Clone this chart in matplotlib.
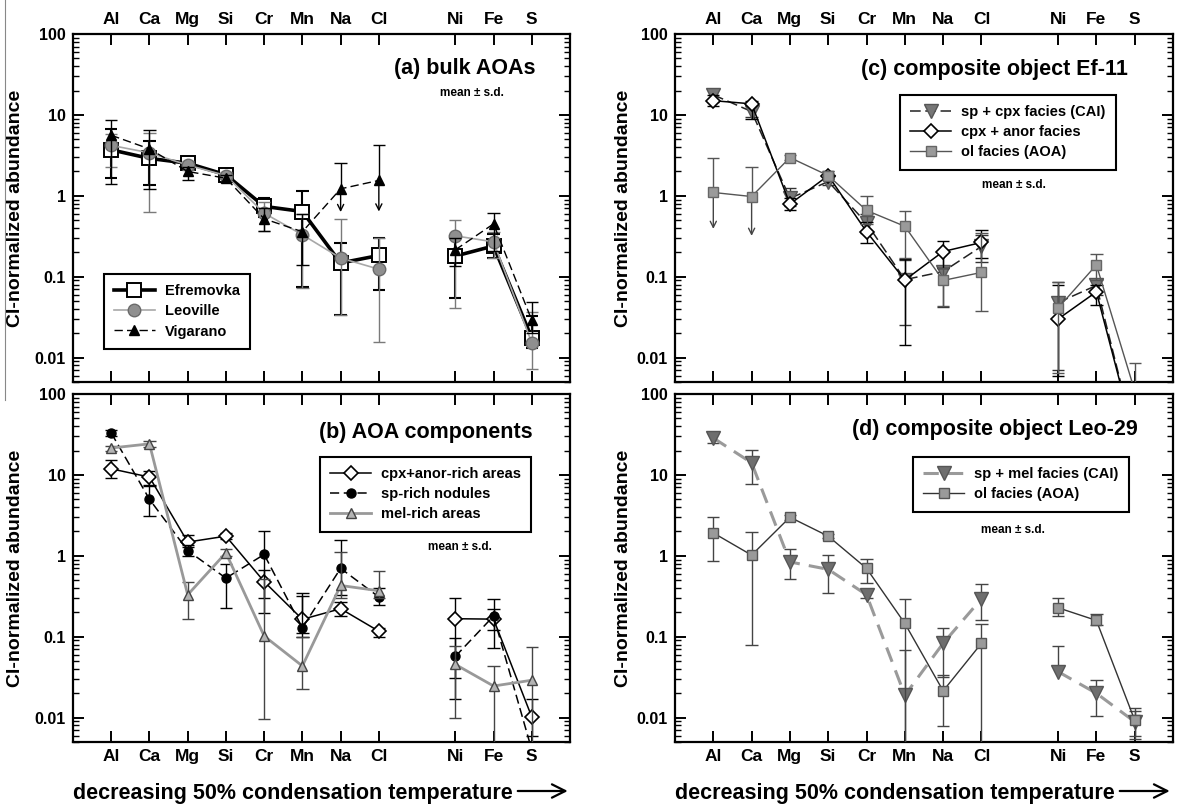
import numpy as np
import matplotlib.pyplot as plt
from matplotlib.lines import Line2D
from matplotlib.patches import FancyArrowPatch
from matplotlib.ticker import LogLocator, NullFormatter

plt.rcParams['font.family'] = ['Liberation Sans', 'DejaVu Sans']
plt.rcParams['font.weight'] = 'bold'
plt.rcParams['axes.linewidth'] = 1.6

nan = np.nan

elements = ["Al", "Ca", "Mg", "Si", "Cr", "Mn", "Na", "Cl", "Ni", "Fe", "S"]
xpos = [1, 2, 3, 4, 5, 6, 7, 8, 10, 11, 12]

# (a) bulk AOAs: mean, lower and upper end of the s.d. bar
efr_val = [3.7, 2.9, 2.53, 1.82, 0.74, 0.64, 0.148, 0.183, 0.18, 0.24, 0.0175]
efr_lo = [1.65, 1.37, 2.2, 1.65, 0.55, 0.075, 0.034, 0.068, 0.054, 0.17, 0.013]
efr_hi = [6.7, 4.7, 2.9, 2.0, 0.95, 1.15, 0.26, 0.30, 0.30, 0.34, 0.033]

leo_val = [4.2, 3.4, 2.4, 1.78, 0.61, 0.33, 0.17, 0.124, 0.32, 0.27, 0.0153]
leo_lo = [2.3, 0.64, 2.1, 1.6, 0.37, 0.072, 0.034, 0.0155, 0.041, 0.17, 0.0073]
leo_hi = [5.8, 6.0, 2.7, 1.95, 0.85, 0.6, 0.52, 0.30, 0.50, 0.36, 0.037]

vig_val = [5.6, 3.8, 2.0, 1.65, 0.52, 0.36, 1.22, 1.55, 0.215, 0.45, 0.029]
vig_lo = [1.41, 1.2, 1.58, 1.5, 0.37, 0.139, nan, nan, 0.137, 0.21, 0.02]
vig_hi = [8.7, 6.5, 2.3, 1.8, 0.7, 0.6, 2.58, 4.2, 0.30, 0.62, 0.049]
vig_limit_idx = [6, 7]
vig_limit_tip = [0.63, 0.64]

# (b) AOA components
cpx_val = [11.9, 9.4, 1.48, 1.75, 0.48, 0.164, 0.222, 0.117, 0.167, 0.165, 0.0102]
cpx_lo = [9.2, 7.5, 1.3, 1.6, 0.30, 0.11, 0.18, 0.10, 0.031, 0.12, 0.006]
cpx_hi = [15.1, 11.1, 1.8, 1.9, 0.66, 0.35, 0.27, 0.13, 0.30, 0.22, 0.0168]

spn_val = [33.0, 5.0, 1.16, 0.53, 1.04, 0.129, 0.70, 0.31, 0.057, 0.18, 0.004]
spn_lo = [30.0, 3.1, 1.0, 0.228, 0.198, 0.10, 0.33, 0.246, 0.0168, 0.072, nan]
spn_hi = [36.0, 7.3, 1.35, 0.8, 2.02, 0.32, 1.58, 0.40, 0.097, 0.29, nan]

mel_val = [21.5, 24.2, 0.33, 1.09, 0.102, 0.0435, 0.43, 0.37, 0.0455, 0.0246, 0.029]
mel_lo = [20.0, 22.0, 0.168, 1.0, 0.0095, 0.0224, 0.30, 0.30, 0.0098, 0.004, 0.004]
mel_hi = [23.0, 26.0, 0.48, 1.2, 0.51, 0.10, 1.12, 0.65, 0.077, 0.044, 0.075]

# (c) composite object Ef-11
cspx_val = [17.7, 11.0, 0.93, 1.5, 0.46, 0.092, 0.116, 0.237, 0.048, 0.078, 0.001]
cspx_lo = [14.5, 9.5, 0.75, 1.35, 0.35, 0.0255, 0.042, 0.15, 0.0071, 0.06, nan]
cspx_hi = [20.7, 13.0, 1.24, 1.7, 0.60, 0.16, 0.20, 0.33, 0.085, 0.095, nan]

canr_val = [15.0, 13.7, 0.79, 1.78, 0.36, 0.091, 0.205, 0.265, 0.030, 0.065, 0.001]
canr_lo = [12.9, 8.9, 0.67, 1.6, 0.26, 0.0142, 0.13, 0.17, 0.0059, 0.045, nan]
canr_hi = [17.5, 15.0, 0.95, 2.0, 0.48, 0.165, 0.28, 0.38, 0.079, 0.08, nan]

col_val = [1.1, 0.98, 2.97, 1.78, 0.66, 0.42, 0.09, 0.113, 0.041, 0.14, 0.0039]
col_lo = [nan, nan, 2.8, 1.65, 0.45, 0.17, 0.043, 0.038, 0.0065, 0.09, nan]
col_hi = [2.9, 2.24, 3.2, 1.9, 1.0, 0.65, 0.13, 0.35, 0.085, 0.19, 0.0085]
col_limit_idx = [0, 1]
col_limit_tip = [0.39, 0.32]

# (d) composite object Leo-29
dspm_val = [28.6, 14.1, 0.84, 0.68, 0.33, 0.0189, 0.083, 0.295, 0.037, 0.020, 0.0089]
dspm_lo = [25.0, 7.7, 0.52, 0.35, 0.30, 0.004, 0.032, 0.16, nan, 0.0105, 0.0055]
dspm_hi = [33.0, 20.5, 1.2, 1.03, 0.38, 0.068, 0.13, 0.45, 0.077, 0.029, 0.012]

dol_val = [1.92, 1.02, 3.0, 1.75, 0.70, 0.146, 0.0214, 0.083, 0.228, 0.159, 0.0093]
dol_lo = [0.86, 0.079, 2.8, 1.65, 0.46, 0.004, 0.0079, 0.004, 0.18, 0.14, 0.006]
dol_hi = [3.0, 1.95, 3.2, 1.85, 0.92, 0.29, 0.034, 0.145, 0.30, 0.19, 0.013]

W, H = 1177, 808


def box(l, t, r, b):
    return [l / W, 1 - b / H, (r - l) / W, (b - t) / H]


def style_axes(ax, top_row):
    ax.set_yscale('log')
    ax.set_ylim(0.005, 100)
    ax.set_xlim(0, 13)
    ax.set_xticks(xpos)
    ax.set_xticklabels(elements, fontsize=12.5, fontweight='bold')
    ax.tick_params(axis='x', which='major', direction='in', top=True, bottom=True,
                   length=8, width=1.4, pad=5,
                   labeltop=top_row, labelbottom=not top_row)
    ax.set_yticks([0.01, 0.1, 1, 10, 100])
    ax.set_yticklabels(['0.01', '0.1', '1', '10', '100'], fontsize=11.5, fontweight='bold')
    ax.yaxis.set_minor_locator(LogLocator(base=10, subs=np.arange(2, 10)))
    ax.yaxis.set_minor_formatter(NullFormatter())
    ax.tick_params(axis='y', which='major', direction='in', left=True, right=True,
                   length=8, width=1.4, pad=5)
    ax.tick_params(axis='y', which='minor', direction='in', left=True, right=True,
                   length=4, width=1.0)


def draw_errors(ax, val, lo, hi, color, lw, zorder, capw=0.16):
    for x, v, l, h in zip(xpos, val, lo, hi):
        if np.isnan(l) and np.isnan(h):
            continue
        bottom = v if np.isnan(l) else l
        top = v if np.isnan(h) else h
        ax.vlines(x, bottom, top, color=color, lw=lw, zorder=zorder)
        for c in (l, h):
            if not np.isnan(c):
                ax.hlines(c, x - capw, x + capw, color=color, lw=lw, zorder=zorder)


def draw_limits(ax, val, idx, tips, color, lw, zorder):
    # downward arrows for upper limits
    for i, tip in zip(idx, tips):
        arr = FancyArrowPatch((xpos[i], val[i]), (xpos[i], tip), arrowstyle='->',
                              mutation_scale=11, color=color, lw=lw,
                              shrinkA=0, shrinkB=0, zorder=zorder)
        ax.add_patch(arr)


def draw_series(ax, val, lo, hi, label, line_kw, mark_kw, err_color, err_lw, zorder):
    draw_errors(ax, val, lo, hi, err_color, err_lw, zorder)
    x = np.array(xpos)
    v = np.array(val)
    # lithophiles and siderophiles are joined separately
    ax.plot(x[:8], v[:8], label=label, zorder=zorder + 0.5, **line_kw, **mark_kw)
    ax.plot(x[8:], v[8:], zorder=zorder + 0.5, **line_kw, **mark_kw)


def add_legend(ax, anchor):
    leg = ax.legend(loc='upper left', bbox_to_anchor=anchor, borderaxespad=0,
                    fancybox=False, framealpha=1, edgecolor='black',
                    handlelength=2.8, handletextpad=0.7, labelspacing=0.42,
                    borderpad=0.7, prop={'weight': 'bold', 'size': 10.5})
    leg.get_frame().set_linewidth(1.5)
    return leg


def panel_text(ax, title, tx, ty, mx, my):
    ax.text(tx, ty, title, transform=ax.transAxes, ha='right', va='center',
            fontsize=15.5, fontweight='bold')
    ax.text(mx, my, 'mean \u00b1 s.d.', transform=ax.transAxes, ha='center',
            va='center', fontsize=8.5, fontweight='bold')


fig = plt.figure(figsize=(W / 100, H / 100), dpi=100)

ax_a = fig.add_axes(box(73, 34, 570, 382))
ax_b = fig.add_axes(box(73, 394, 570, 742))
ax_c = fig.add_axes(box(675, 34, 1173, 382))
ax_d = fig.add_axes(box(675, 394, 1173, 742))

for ax, top_row in ((ax_a, True), (ax_b, False), (ax_c, True), (ax_d, False)):
    style_axes(ax, top_row)

# (a)
draw_series(ax_a, efr_val, efr_lo, efr_hi, 'Efremovka',
            dict(color='black', lw=2.6),
            dict(marker='s', ms=10.5, mfc='white', mec='black', mew=1.4),
            'black', 1.5, 3)
draw_series(ax_a, leo_val, leo_lo, leo_hi, 'Leoville',
            dict(color='#a8a8a8', lw=1.2),
            dict(marker='o', ms=9, mfc='#8f8f8f', mec='#6a6a6a', mew=1.0),
            '#7a7a7a', 1.0, 4)
draw_series(ax_a, vig_val, vig_lo, vig_hi, 'Vigarano',
            dict(color='black', lw=1.0, dashes=(6, 3)),
            dict(marker='^', ms=7.5, mfc='black', mec='black'),
            'black', 1.0, 5)
draw_limits(ax_a, vig_val, vig_limit_idx, vig_limit_tip, 'black', 1.0, 5)
add_legend(ax_a, (0.062, 0.31))
panel_text(ax_a, '(a) bulk AOAs', 0.93, 0.902, 0.803, 0.83)

# (b)
draw_series(ax_b, cpx_val, cpx_lo, cpx_hi, 'cpx+anor-rich areas',
            dict(color='black', lw=1.1),
            dict(marker='D', ms=7.5, mfc='white', mec='black', mew=1.2),
            'black', 1.0, 3)
draw_series(ax_b, spn_val, spn_lo, spn_hi, 'sp-rich nodules',
            dict(color='black', lw=1.1, dashes=(6, 3)),
            dict(marker='o', ms=6.5, mfc='black', mec='black'),
            'black', 1.0, 4)
draw_series(ax_b, mel_val, mel_lo, mel_hi, 'mel-rich areas',
            dict(color='#999999', lw=2.0),
            dict(marker='^', ms=7, mfc='#b4b4b4', mec='#444444', mew=1.0),
            '#444444', 1.0, 5)
add_legend(ax_b, (0.497, 0.819))
panel_text(ax_b, '(b) AOA components', 0.924, 0.888, 0.779, 0.56)

# (c)
draw_series(ax_c, cspx_val, cspx_lo, cspx_hi, 'sp + cpx facies (CAI)',
            dict(color='#222222', lw=1.1, dashes=(7, 3)),
            dict(marker='v', ms=9.5, mfc='#777777', mec='#555555', mew=1.0),
            '#333333', 1.0, 3)
draw_series(ax_c, canr_val, canr_lo, canr_hi, 'cpx + anor facies',
            dict(color='black', lw=1.1),
            dict(marker='D', ms=7.5, mfc='white', mec='black', mew=1.2),
            'black', 1.0, 4)
draw_series(ax_c, col_val, col_lo, col_hi, 'ol facies (AOA)',
            dict(color='#555555', lw=1.0),
            dict(marker='s', ms=7, mfc='#9a9a9a', mec='#666666', mew=1.0),
            '#555555', 1.0, 5)
draw_limits(ax_c, col_val, col_limit_idx, col_limit_tip, '#444444', 1.0, 5)
add_legend(ax_c, (0.452, 0.825))
panel_text(ax_c, '(c) composite object Ef-11', 0.91, 0.897, 0.681, 0.566)

# (d)
draw_series(ax_d, dspm_val, dspm_lo, dspm_hi, 'sp + mel facies (CAI)',
            dict(color='#9a9a9a', lw=2.2, dashes=(5, 3)),
            dict(marker='v', ms=10, mfc='#6e6e6e', mec='#555555', mew=1.0),
            '#444444', 1.0, 3)
draw_series(ax_d, dol_val, dol_lo, dol_hi, 'ol facies (AOA)',
            dict(color='#333333', lw=1.0),
            dict(marker='s', ms=7, mfc='#9a9a9a', mec='#555555', mew=1.0),
            '#444444', 1.0, 4)
add_legend(ax_d, (0.478, 0.819))
panel_text(ax_d, '(d) composite object Leo-29', 0.93, 0.897, 0.679, 0.609)

# y-axis titles, one per panel
for ax, xc in ((ax_a, 16), (ax_b, 16), (ax_c, 624), (ax_d, 624)):
    pos = ax.get_position()
    fig.text(xc / W, pos.y0 + pos.height / 2, 'CI-normalized abundance', rotation=90,
             ha='center', va='center', fontsize=14, fontweight='bold')

# x-axis titles with trailing arrow
fig.canvas.draw()
renderer = fig.canvas.get_renderer()
for x0 in (73, 675):
    t = fig.text(x0 / W, 1 - 793 / H, 'decreasing 50% condensation temperature',
                 ha='left', va='center', fontsize=15.5, fontweight='bold')
    ext = t.get_window_extent(renderer)
    ya = 1 - 791 / H
    arr = FancyArrowPatch(((ext.x1 + 5) / W, ya), ((ext.x1 + 55) / W, ya),
                          transform=fig.transFigure, arrowstyle='->',
                          mutation_scale=24, lw=1.6, color='black',
                          shrinkA=0, shrinkB=0)
    fig.add_artist(arr)

fig.add_artist(Line2D([5 / W, 5 / W], [1, 1 - 400 / H], color='#888888', lw=0.8))

fig.savefig('out.png', dpi=100)
